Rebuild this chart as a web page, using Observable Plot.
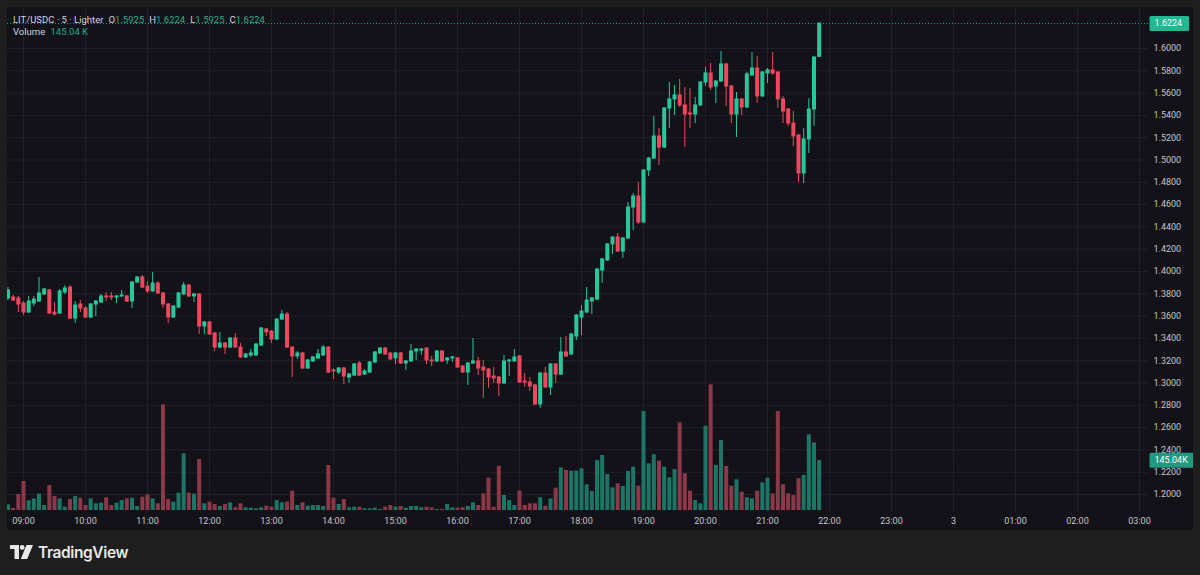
<!DOCTYPE html>
<html>
<head>
<meta charset="utf-8">
<script src="https://cdn.jsdelivr.net/npm/d3@7"></script>
<script src="https://cdn.jsdelivr.net/npm/@observablehq/plot@0.6"></script>
<style>
  html, body { margin: 0; padding: 0; background: #1e1e1e; width: 1200px; height: 575px; overflow: hidden; font-family: Roboto, "Noto Sans", sans-serif; }
  #panel { position: absolute; left: 7px; top: 7px; width: 1186px; height: 523px; background: #131218; overflow: hidden; }
  .layer { position: absolute; left: 0; top: 0; }
  #header { position: absolute; left: 6px; top: 7px; font-size: 9.5px; line-height: 12px; color: #d1d4dc; white-space: pre; }
  #header .v { color: #22ab8d; }
  #header .k { margin-left: 5px; }
  #footer { position: absolute; left: 10px; top: 543px; height: 18px; display: flex; align-items: center; gap: 4px; color: #e8e8e8; font-family: Inter, Roboto, sans-serif; font-weight: 600; font-size: 15.5px; letter-spacing: -0.4px; }
</style>
</head>
<body>
<div id="panel">
  <div id="gridLayer" class="layer"></div>
  <div id="volLayer" class="layer"></div>
  <div id="candleLayer" class="layer"></div>
  <div id="header"></div>
</div>
<div id="footer">
  <svg width="24" height="14" viewBox="0 0 24 14"><path d="M0 0H9V14H4.5V4H0Z" fill="#e8e8e8"/><circle cx="12.2" cy="2.4" r="2.4" fill="#e8e8e8"/><path d="M16.5 0H23L17.2 14H10.8Z" fill="#e8e8e8"/></svg>
  <span>TradingView</span>
</div>
<script>
// ---- data (5-minute candles, LIT/USDC on Lighter) ----
const symbolTitle = "LIT/USDC · 5 · Lighter";
const firstCandleUTC = Date.UTC(2026, 0, 2, 8, 45);
const candleMinutes = 5;

const open = [1.3758,1.3767,1.3758,1.3713,1.3632,1.3713,1.3731,1.3794,1.3830,1.3632,1.3623,1.3812,1.3856,1.3578,1.3704,1.3668,1.3587,1.3704,1.3722,1.3776,1.3776,1.3767,1.3776,1.3776,1.3731,1.3901,1.3946,1.3865,1.3821,1.3892,1.3803,1.3704,1.3587,1.3677,1.3794,1.3874,1.3776,1.3794,1.3507,1.3543,1.3444,1.3318,1.3354,1.3318,1.3399,1.3318,1.3229,1.3247,1.3247,1.3336,1.3480,1.3462,1.3390,1.3569,1.3614,1.3318,1.3238,1.3265,1.3130,1.3193,1.3220,1.3247,1.3318,1.3112,1.3094,1.3130,1.3049,1.3067,1.3175,1.3076,1.3094,1.3184,1.3265,1.3309,1.3265,1.3220,1.3265,1.3175,1.3193,1.3283,1.3291,1.3309,1.3202,1.3193,1.3283,1.3202,1.3220,1.3220,1.3148,1.3094,1.3175,1.3193,1.3139,1.3121,1.3058,1.3049,1.2996,1.3193,1.3193,1.3238,1.3013,1.3004,1.2978,1.2807,1.3085,1.2960,1.3166,1.3076,1.3274,1.3256,1.3417,1.3587,1.3632,1.3731,1.3749,1.4009,1.4099,1.4242,1.4305,1.4179,1.4296,1.4574,1.4673,1.4439,1.4906,1.5013,1.5211,1.5112,1.5462,1.5543,1.5579,1.5489,1.5417,1.5408,1.5489,1.5695,1.5776,1.5659,1.5704,1.5857,1.5659,1.5408,1.5543,1.5471,1.5758,1.5821,1.5570,1.5776,1.5803,1.5785,1.5543,1.5453,1.5327,1.5220,1.4879,1.5184,1.5453,1.5925];
const high = [1.3856,1.3785,1.3776,1.3731,1.3776,1.3776,1.3946,1.3848,1.3839,1.3722,1.3839,1.3874,1.3874,1.3731,1.3740,1.3686,1.3713,1.3740,1.3794,1.3812,1.3812,1.3785,1.3830,1.3785,1.3910,1.3955,1.3964,1.3910,1.3991,1.3910,1.3812,1.3713,1.3695,1.3812,1.3901,1.3883,1.3803,1.3803,1.3552,1.3552,1.3453,1.3453,1.3363,1.3408,1.3444,1.3354,1.3265,1.3300,1.3354,1.3498,1.3489,1.3471,1.3578,1.3650,1.3632,1.3327,1.3283,1.3274,1.3211,1.3238,1.3300,1.3336,1.3327,1.3130,1.3139,1.3139,1.3085,1.3175,1.3193,1.3121,1.3193,1.3283,1.3318,1.3318,1.3274,1.3274,1.3274,1.3202,1.3345,1.3309,1.3309,1.3318,1.3238,1.3291,1.3291,1.3229,1.3238,1.3229,1.3157,1.3184,1.3399,1.3229,1.3202,1.3130,1.3139,1.3058,1.3247,1.3211,1.3300,1.3247,1.3085,1.3049,1.2987,1.3094,1.3139,1.3175,1.3175,1.3408,1.3417,1.3444,1.3614,1.3695,1.3856,1.3767,1.4027,1.4117,1.4251,1.4314,1.4341,1.4305,1.4619,1.4700,1.4798,1.4915,1.5022,1.5390,1.5283,1.5471,1.5695,1.5668,1.5722,1.5650,1.5641,1.5561,1.5704,1.5830,1.5866,1.5713,1.5973,1.5866,1.5668,1.5605,1.5552,1.5785,1.5964,1.5928,1.5794,1.5821,1.5964,1.5794,1.5570,1.5462,1.5435,1.5229,1.5283,1.5552,1.5928,1.6224];
const low = [1.3740,1.3731,1.3632,1.3605,1.3623,1.3686,1.3722,1.3785,1.3614,1.3605,1.3614,1.3794,1.3569,1.3534,1.3632,1.3578,1.3578,1.3596,1.3713,1.3731,1.3740,1.3713,1.3767,1.3722,1.3668,1.3892,1.3848,1.3803,1.3812,1.3794,1.3668,1.3534,1.3578,1.3668,1.3785,1.3767,1.3722,1.3435,1.3435,1.3426,1.3283,1.3309,1.3256,1.3309,1.3309,1.3220,1.3220,1.3229,1.3238,1.3327,1.3417,1.3354,1.3381,1.3561,1.3309,1.3049,1.3211,1.3121,1.3121,1.3184,1.3211,1.3238,1.3085,1.3031,1.3076,1.2987,1.2996,1.3058,1.3058,1.3067,1.3085,1.3175,1.3256,1.3247,1.3202,1.3166,1.3166,1.3112,1.3184,1.3202,1.3247,1.3166,1.3148,1.3184,1.3184,1.3166,1.3184,1.3130,1.3085,1.2978,1.3166,1.3067,1.2861,1.2951,1.2996,1.2879,1.2987,1.3058,1.3184,1.2996,1.2960,1.2924,1.2798,1.2771,1.2951,1.2888,1.2996,1.3067,1.3229,1.3247,1.3381,1.3426,1.3623,1.3614,1.3740,1.3892,1.4090,1.4152,1.4170,1.4117,1.4287,1.4368,1.4422,1.4431,1.4852,1.5004,1.4951,1.5103,1.5283,1.5399,1.5471,1.5112,1.5283,1.5327,1.5480,1.5659,1.5623,1.5507,1.5695,1.5480,1.5327,1.5202,1.5399,1.5462,1.5749,1.5507,1.5561,1.5686,1.5758,1.5462,1.5327,1.5301,1.5121,1.4798,1.4789,1.5058,1.5301,1.5925];
const close = [1.3830,1.3740,1.3704,1.3632,1.3731,1.3749,1.3803,1.3839,1.3623,1.3614,1.3821,1.3848,1.3578,1.3695,1.3668,1.3587,1.3704,1.3731,1.3776,1.3767,1.3767,1.3776,1.3785,1.3731,1.3901,1.3946,1.3856,1.3821,1.3892,1.3803,1.3704,1.3587,1.3686,1.3803,1.3874,1.3776,1.3794,1.3507,1.3543,1.3435,1.3318,1.3354,1.3318,1.3399,1.3318,1.3229,1.3256,1.3265,1.3345,1.3489,1.3453,1.3390,1.3569,1.3614,1.3318,1.3238,1.3265,1.3130,1.3202,1.3229,1.3256,1.3318,1.3094,1.3103,1.3130,1.3058,1.3076,1.3166,1.3067,1.3103,1.3184,1.3274,1.3309,1.3256,1.3211,1.3265,1.3175,1.3193,1.3283,1.3300,1.3300,1.3202,1.3193,1.3283,1.3193,1.3220,1.3229,1.3139,1.3094,1.3175,1.3193,1.3130,1.3112,1.3049,1.3040,1.2996,1.3193,1.3202,1.3229,1.3004,1.3004,1.2969,1.2807,1.3085,1.2960,1.3166,1.3076,1.3274,1.3238,1.3435,1.3605,1.3641,1.3740,1.3758,1.4018,1.4108,1.4242,1.4305,1.4179,1.4296,1.4574,1.4673,1.4439,1.4906,1.5013,1.5211,1.5112,1.5462,1.5543,1.5579,1.5489,1.5408,1.5408,1.5489,1.5695,1.5776,1.5650,1.5704,1.5857,1.5659,1.5408,1.5543,1.5471,1.5767,1.5821,1.5570,1.5785,1.5803,1.5776,1.5543,1.5435,1.5327,1.5211,1.4879,1.5184,1.5453,1.5919,1.6224];
// volume in thousands
const volume = [16.5,5.8,46.4,84.1,28.1,33.9,47.3,14.5,72.5,40.6,33.9,9.6,31.9,40.6,35.7,14.5,33.9,19.4,21.2,36.8,14.5,21.2,29.0,33.9,35.7,11.6,38.6,45.5,33.9,19.4,306.5,31.9,24.1,50.2,164.4,50.2,47.3,147.9,19.4,24.1,17.4,11.6,17.4,22.3,7.8,19.4,7.8,6.7,4.9,7.8,12.5,9.6,29.0,22.3,24.1,56.0,14.5,22.3,12.5,14.5,14.5,11.6,130.5,35.7,17.4,31.9,7.8,9.6,9.6,4.9,4.9,6.7,2.9,9.6,14.5,9.6,11.6,6.7,11.6,11.6,7.8,9.6,7.8,2.9,2.9,17.4,7.8,6.7,7.8,11.6,22.3,14.5,48.4,93.7,9.6,128.5,43.5,29.0,14.5,56.0,14.5,19.4,19.4,36.8,12.5,33.9,64.7,123.8,116.0,114.0,114.0,120.9,74.5,55.1,145.0,159.5,104.4,65.8,77.4,69.6,113.1,125.6,70.5,287.1,135.4,161.5,143.0,125.6,94.8,118.9,254.3,106.4,56.0,29.0,19.4,244.5,364.5,130.5,203.0,127.6,70.5,89.0,53.1,36.8,33.9,56.0,80.3,93.7,48.4,287.1,74.5,48.4,43.5,91.9,101.5,219.5,196.3,145.04];

const xTickLabels = ["09:00","10:00","11:00","12:00","13:00","14:00","15:00","16:00","17:00","18:00","19:00","20:00","21:00","22:00","23:00","3","01:00","02:00","03:00"];
const yTicks = [1.20,1.22,1.24,1.26,1.28,1.30,1.32,1.34,1.36,1.38,1.40,1.42,1.44,1.46,1.48,1.50,1.52,1.54,1.56,1.58,1.60];

// ---- build table ----
const candles = open.map((o, i) => ({
  time: new Date(firstCandleUTC + i * candleMinutes * 60000),
  open: o, high: high[i], low: low[i], close: close[i], volume: volume[i],
  up: close[i] >= o
}));
const last = candles[candles.length - 1];
const xTicks = xTickLabels.map((_, k) => new Date(Date.UTC(2026, 0, 2, 9 + k)));
const labelByTime = new Map(xTicks.map((t, k) => [+t, xTickLabels[k]]));

// ---- styling ----
const W = 1186, H = 523, MR = 45, MT = 1, MB = 18;
const UP = "#26c79b", DOWN = "#f0475e";
const VUP = "#1d7565", VDOWN = "#8c3848";
const GRID = "#222128", AXIS_TEXT = "#c4c6cc";
const xDomain = [new Date(Date.UTC(2026, 0, 2, 8, 44, 31)), new Date(Date.UTC(2026, 0, 3, 3, 8, 43))];
const yDomain = [1.18386, 1.63587];
const baseStyle = { background: "transparent", fontFamily: "Roboto, sans-serif", fontSize: "9px", overflow: "visible" };

// grid + axes
const gridPlot = Plot.plot({
  width: W, height: H, marginLeft: 0, marginRight: MR, marginTop: MT, marginBottom: MB,
  x: { type: "utc", domain: xDomain, label: null },
  y: { domain: yDomain, label: null },
  style: { ...baseStyle, color: AXIS_TEXT },
  marks: [
    Plot.gridX(xTicks, { stroke: GRID, strokeOpacity: 1 }),
    Plot.gridY(yTicks, { stroke: GRID, strokeOpacity: 1 }),
    Plot.axisX(xTicks, { tickSize: 0, tickPadding: 5, tickFormat: d => labelByTime.get(+d), fill: AXIS_TEXT, label: null }),
    Plot.axisY(yTicks, { anchor: "right", tickSize: 0, tickPadding: 5, tickFormat: d => d.toFixed(4), fill: AXIS_TEXT, label: null })
  ]
});
document.getElementById("gridLayer").append(gridPlot);

// volume
const volPlot = Plot.plot({
  width: W, height: H, marginLeft: 0, marginRight: MR, marginTop: 353, marginBottom: 20,
  x: { type: "utc", domain: xDomain, axis: null },
  y: { domain: [0, 435], axis: null },
  color: { type: "identity" },
  style: baseStyle,
  marks: [
    Plot.ruleX(candles, { x: "time", y1: 0, y2: "volume", stroke: d => d.up ? VUP : VDOWN, strokeWidth: 4 }),
    Plot.text([last], { y: "volume", frameAnchor: "right", dx: 6, textAnchor: "start", text: d => d.volume.toFixed(2) + "K", fill: "#ffffff", fontSize: 9, className: "vollbl" })
  ]
});
document.getElementById("volLayer").append(volPlot);

// candles
const candlePlot = Plot.plot({
  width: W, height: H, marginLeft: 0, marginRight: MR, marginTop: MT, marginBottom: MB,
  x: { type: "utc", domain: xDomain, axis: null },
  y: { domain: yDomain, axis: null },
  color: { type: "identity" },
  style: baseStyle,
  marks: [
    Plot.ruleY([last.close], { stroke: UP, strokeDasharray: "1,2", strokeOpacity: 0.8 }),
    Plot.ruleX(candles, { x: "time", y1: "high", y2: "low", stroke: d => d.up ? UP : DOWN, strokeWidth: 1 }),
    Plot.ruleX(candles, { x: "time", y1: d => Math.max(d.open, d.close), y2: d => Math.min(d.open, d.close), stroke: d => d.up ? UP : DOWN, strokeWidth: 4, insetTop: -0.5, insetBottom: -0.5 }),
    Plot.text([last], { y: "close", frameAnchor: "right", dx: 6, textAnchor: "start", text: d => d.close.toFixed(4), fill: "#ffffff", fontSize: 9, className: "pricelbl" })
  ]
});
document.getElementById("candleLayer").append(candlePlot);

// label boxes behind the last-value texts (same transform as the text)
function boxBehind(svgNode, cls, color) {
  d3.select(svgNode).selectAll("g." + cls + " text").each(function () {
    const bb = this.getBBox();
    const tr = this.getAttribute("transform");
    const r = d3.select(this.parentNode).insert("rect", "text")
      .attr("x", bb.x - 5).attr("y", bb.y + bb.height / 2 - 7.5)
      .attr("width", bb.width + 12).attr("height", 15)
      .attr("rx", 1.5).attr("fill", color);
    if (tr) r.attr("transform", tr);
  });
}
boxBehind(candlePlot, "pricelbl", "#22b892");
boxBehind(volPlot, "vollbl", "#1f9a80");

// header legend
const fmt = v => v.toFixed(4);
document.getElementById("header").innerHTML =
  `<div>${symbolTitle}<span class="k">O</span><span class="v">${fmt(last.open)}</span><span class="k">H</span><span class="v">${fmt(last.high)}</span><span class="k">L</span><span class="v">${fmt(last.low)}</span><span class="k">C</span><span class="v">${fmt(last.close)}</span></div>` +
  `<div>Volume <span class="v" style="margin-left:3px">${last.volume.toFixed(2)} K</span></div>`;
</script>
</body>
</html>
